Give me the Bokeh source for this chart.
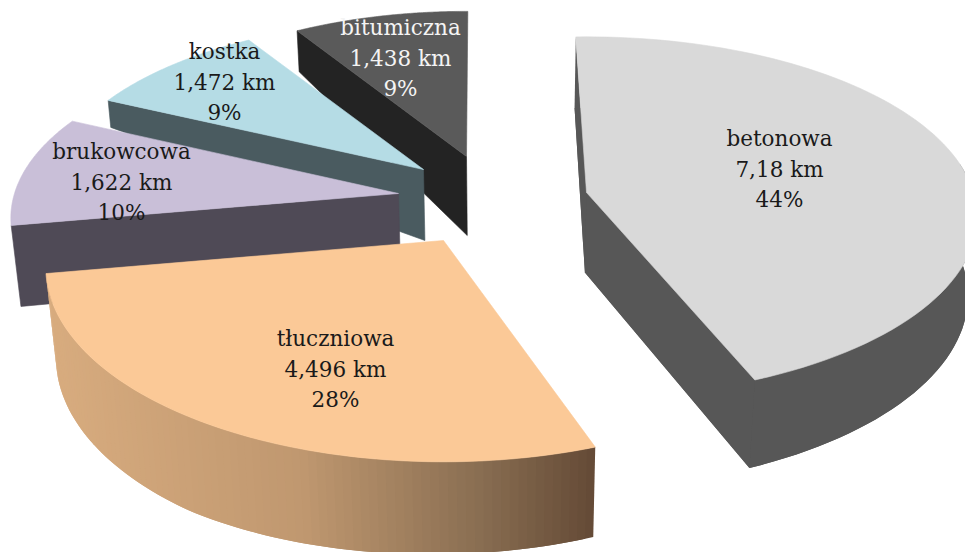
import numpy as np
from bokeh.plotting import figure
from bokeh.models import Range1d, ColumnDataSource
from bokeh.core.properties import value
from bokeh.embed import file_html
from bokeh.resources import INLINE

categories = ["betonowa", "tłuczniowa", "brukowcowa", "kostka", "bitumiczna"]
km_values = [7.18, 4.496, 1.622, 1.472, 1.438]
km_labels = ["7,18 km", "4,496 km", "1,622 km", "1,472 km", "1,438 km"]
pct_labels = ["44%", "28%", "10%", "9%", "9%"]

top_colors = ["#d9d9d9", "#fbc997", "#c9bfd8", "#b5dce5", "#5a5a5a"]
wall_colors = ["#575757", None, "#4f4a56", "#4a5b60", "#232323"]
text_colors = ["#1a1a1a", "#1a1a1a", "#1a1a1a", "#1a1a1a", "#f4f4f4"]

# layout: per-slice apex, radii, start angle, depth of the extrusion
apex_x = [586, 443, 398, 423, 466]
apex_y = [192, 240, 193, 169, 156]
rad_x = [387, 394, 384, 370, 360]
rad_y = [177, 191, 176, 170, 165]
start_deg = [-1.8, 160.4, 259.8, 295.5, 328.3]
depth_apex = [80, 90, 78, 71, 79]
depth_start = [71, 90, 81, 27, 41]
depth_end = [88, 91, 40, 30, 40]
label_x = [779, 335, 121, 224, 400]
label_y = [138, 338, 151, 51, 27]
LINE = 30.5
K = 0.137
VP_X = 504
LEAN = 0.000245

total = sum(km_values)
sweeps = [v / total * 360 for v in km_values]


def project(i, theta_deg):
    t = np.radians(theta_deg)
    u, v = np.sin(t), np.cos(t)
    s = 1 / (1 + K * v)
    return apex_x[i] + rad_x[i] * u * s, apex_y[i] - rad_y[i] * v * s


def drop(x, y, d):
    return x + (VP_X - x) * d * LEAN, y + d


p = figure(width=965, height=552, output_backend="svg", toolbar_location=None,
           x_range=Range1d(0, 965), y_range=Range1d(552, 0),
           min_border=0, outline_line_color=None, background_fill_color="white",
           border_fill_color="white")
p.xaxis.visible = False
p.yaxis.visible = False
p.grid.visible = False


def poly(xs, ys, color, lw=0.6):
    p.patch(list(xs), list(ys), fill_color=color, line_color=color, line_width=lw)


for i in [4, 3, 2, 1, 0]:
    th = np.linspace(start_deg[i], start_deg[i] + sweeps[i], 90)
    ax, ay = apex_x[i], apex_y[i]
    tx, ty = project(i, th)
    dep = np.interp(th, [th[0], th[0] + sweeps[i] * 0.56, th[-1]],
                    [depth_start[i], depth_start[i] + 7, depth_end[i]])
    bx, by = drop(tx, ty, dep)
    abx, aby = drop(ax, ay, depth_apex[i])

    if i == 1:
        # shaded outer wall, each strip overlaps the next
        for j in range(len(th) - 1):
            mx = (tx[j] + tx[j + 1]) / 2
            r = np.interp(mx, [50, 300, 480, 596], [216, 192, 137, 100])
            g = np.interp(mx, [50, 300, 480, 596], [172, 152, 110, 74])
            b = np.interp(mx, [50, 300, 480, 596], [127, 112, 82, 54])
            c = "#%02x%02x%02x" % (int(r), int(g), int(b))
            k = min(j + 2, len(th) - 1)
            poly([tx[j], tx[k], bx[k], bx[j]],
                 [ty[j], ty[k], by[k], by[j]], c, 0)
    elif i == 0:
        # only the front part of the outer wall shows below the top face
        front = th >= 80
        poly(list(bx) + [abx], list(by) + [aby], wall_colors[i], 0)
        poly(list(tx[front]) + list(bx[front][::-1]),
             list(ty[front]) + list(by[front][::-1]), wall_colors[i], 0)
        poly([ax, abx, bx[0], tx[0]], [ay, aby, by[0], ty[0]], wall_colors[i], 0)
        poly([tx[-1], ax, abx, bx[-1]], [ty[-1], ay, aby, by[-1]], wall_colors[i], 0)
    else:
        poly([tx[0], ax, abx, bx[0]], [ty[0], ay, aby, by[0]], wall_colors[i])

    poly(list(tx) + [ax], list(ty) + [ay], top_colors[i])

xs, ys, texts, cols = [], [], [], []
for i, name in enumerate(categories):
    for row, t in enumerate([name, km_labels[i], pct_labels[i]]):
        xs.append(label_x[i])
        ys.append(label_y[i] + row * LINE)
        texts.append(t)
        cols.append(text_colors[i])
src = ColumnDataSource(dict(x=xs, y=ys, t=texts, c=cols))
p.text("x", "y", text="t", source=src, text_color="c", text_align="center",
       text_baseline="middle", text_font=value("DejaVu Serif"),
       text_font_size="21.5px")

open("out.html", "w").write(file_html(p, INLINE))
